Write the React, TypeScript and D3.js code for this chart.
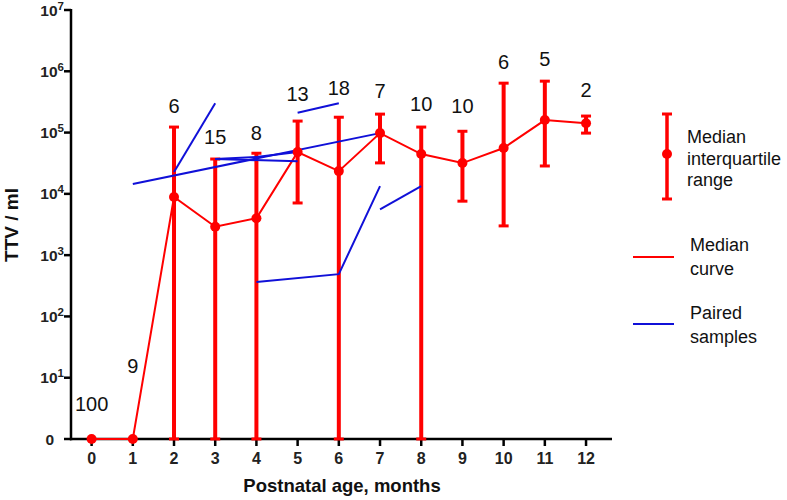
import React from "react";
import * as d3 from "d3";

const months = [0, 1, 2, 3, 4, 5, 6, 7, 8, 9, 10, 11, 12];
const counts = [100, 9, 6, 15, 8, 13, 18, 7, 10, 10, 6, 5, 2];
const medians = [0, 0, 8900, 2900, 4000, 48000, 23500, 98000, 44600, 31800, 56000, 160000, 142000];
const lowerQ: (number | null)[] = [null, null, 0, 0, 0, 7100, 0, 32000, 0, 7600, 3000, 28500, 98000];
const upperQ: (number | null)[] = [null, null, 123000, 37000, 46000, 154000, 178000, 200000, 123000, 105000, 640000, 690000, 186000];
// value level at which each count label sits
const countLabelAt = [2.86, 11.9, 208000, 65000, 75000, 326000, 410000, 365000, 224000, 208000, 1.09e6, 1.22e6, 380000];

const pairedSamples: [number, number][][] = [
  [[1, 14500], [7, 98000]],
  [[2, 22700], [3, 300000]],
  [[3, 37000], [5, 34000]],
  [[3, 37000], [4, 40000], [5, 48000]],
  [[5, 210000], [6, 300000]],
  [[4, 364], [6, 490], [7, 13400]],
  [[7, 5600], [8, 13400]],
];

const yTickPowers = [0, 1, 2, 3, 4, 5, 6, 7];
const xLabel = "Postnatal age, months";
const yLabel = "TTV / ml";
const legendItems = [
  ["Median", "interquartile", "range"],
  ["Median", "curve"],
  ["Paired", "samples"],
];

const RED = "#ff0000";
const BLUE = "#1010d8";
const FONT = "'Liberation Sans', Arial, Helvetica, sans-serif";

export default function App() {
  const x = d3.scaleLinear().domain([-0.5, 12.63]).range([71, 612]);
  const y = d3.scaleLog().domain([1, 1e7]).range([439, 10]);
  const yv = (v: number) => y(Math.max(v, 1));

  const line = d3
    .line<[number, number]>()
    .x((d) => x(d[0]))
    .y((d) => yv(d[1]));

  const medianPts: [number, number][] = months.map((m, i) => [m, medians[i]]);

  const capW = 5;

  return (
    <svg
      width={787}
      height={500}
      style={{ position: "absolute", left: 0, top: 0, background: "#fff" }}
      fontFamily={FONT}
    >
      <rect width={787} height={500} fill="#fff" />
      {/* axes */}
      <g stroke="#000" strokeWidth={2.5} fill="none">
        <line x1={71} x2={71} y1={y(1e7) - 1} y2={y(1) + 1.2} />
        <line x1={70} x2={612} y1={y(1)} y2={y(1)} />
        {yTickPowers.map((p) => (
          <line key={"yt" + p} x1={64} x2={71} y1={y(Math.pow(10, p))} y2={y(Math.pow(10, p))} />
        ))}
        {months.map((m) => (
          <line key={"xt" + m} x1={x(m)} x2={x(m)} y1={y(1)} y2={y(1) + 7} />
        ))}
      </g>
      {/* y tick labels */}
      <g fontWeight="bold" fontSize={15.5} fill="#222">
        {yTickPowers.map((p) =>
          p === 0 ? (
            <text key={"yl" + p} x={54} y={y(1) + 5.5} textAnchor="end">
              0
            </text>
          ) : (
            <text key={"yl" + p} x={64} y={y(Math.pow(10, p)) + 5.5} textAnchor="end">
              10
              <tspan fontSize={11.5} dy={-6}>
                {p}
              </tspan>
            </text>
          )
        )}
      </g>
      {/* x tick labels */}
      <g fontWeight="bold" fontSize={16} fill="#222" textAnchor="middle">
        {months.map((m) => (
          <text key={"xl" + m} x={x(m)} y={464}>
            {m}
          </text>
        ))}
      </g>
      <text x={342} y={492} fontWeight="bold" fontSize={18.5} textAnchor="middle" fill="#111">
        {xLabel}
      </text>
      <text
        transform={`translate(18,225) rotate(-90)`}
        fontWeight="bold"
        fontSize={19}
        textAnchor="middle"
        fill="#111"
      >
        {yLabel}
      </text>

      {/* error bars */}
      <g stroke={RED} fill="none">
        {months.map((m, i) => {
          const lo = lowerQ[i];
          const hi = upperQ[i];
          if (lo === null || hi === null) return null;
          const cx = x(m);
          return (
            <g key={"eb" + m}>
              <line x1={cx} x2={cx} y1={yv(lo)} y2={yv(hi)} strokeWidth={4} />
              <line x1={cx - capW} x2={cx + capW} y1={yv(hi)} y2={yv(hi)} strokeWidth={3} />
              <line x1={cx - capW} x2={cx + capW} y1={yv(lo)} y2={yv(lo)} strokeWidth={3} />
            </g>
          );
        })}
      </g>
      {/* median curve */}
      <path d={line(medianPts) || ""} stroke={RED} strokeWidth={2} fill="none" />
      {/* paired samples */}
      <g stroke={BLUE} strokeWidth={2} fill="none">
        {pairedSamples.map((s, i) => (
          <path key={"ps" + i} d={line(s) || ""} />
        ))}
      </g>
      {/* median dots */}
      <g fill={RED}>
        {medianPts.map((d) => (
          <circle key={"md" + d[0]} cx={x(d[0])} cy={yv(d[1])} r={5} />
        ))}
      </g>
      {/* counts */}
      <g fontSize={20} fill="#111" textAnchor="middle">
        {months.map((m, i) => (
          <text key={"ct" + m} x={x(m)} y={yv(countLabelAt[i])}>
            {counts[i]}
          </text>
        ))}
      </g>

      {/* legend */}
      <g>
        <g stroke={RED}>
          <line x1={667} x2={667} y1={114} y2={199} strokeWidth={3.5} />
          <line x1={662} x2={672} y1={114} y2={114} strokeWidth={3} />
          <line x1={662} x2={672} y1={199} y2={199} strokeWidth={3} />
        </g>
        <circle cx={667} cy={154} r={5} fill={RED} />
        <g fontSize={18} fill="#111">
          {legendItems[0].map((t, i) => (
            <text key={"l0" + i} x={687} y={143 + i * 21.5}>
              {t}
            </text>
          ))}
          {legendItems[1].map((t, i) => (
            <text key={"l1" + i} x={690} y={251 + i * 24}>
              {t}
            </text>
          ))}
          {legendItems[2].map((t, i) => (
            <text key={"l2" + i} x={690} y={319 + i * 24}>
              {t}
            </text>
          ))}
        </g>
        <line x1={633} x2={674} y1={257} y2={257} stroke={RED} strokeWidth={2} />
        <line x1={633} x2={674} y1={324} y2={324} stroke={BLUE} strokeWidth={2} />
      </g>
    </svg>
  );
}
